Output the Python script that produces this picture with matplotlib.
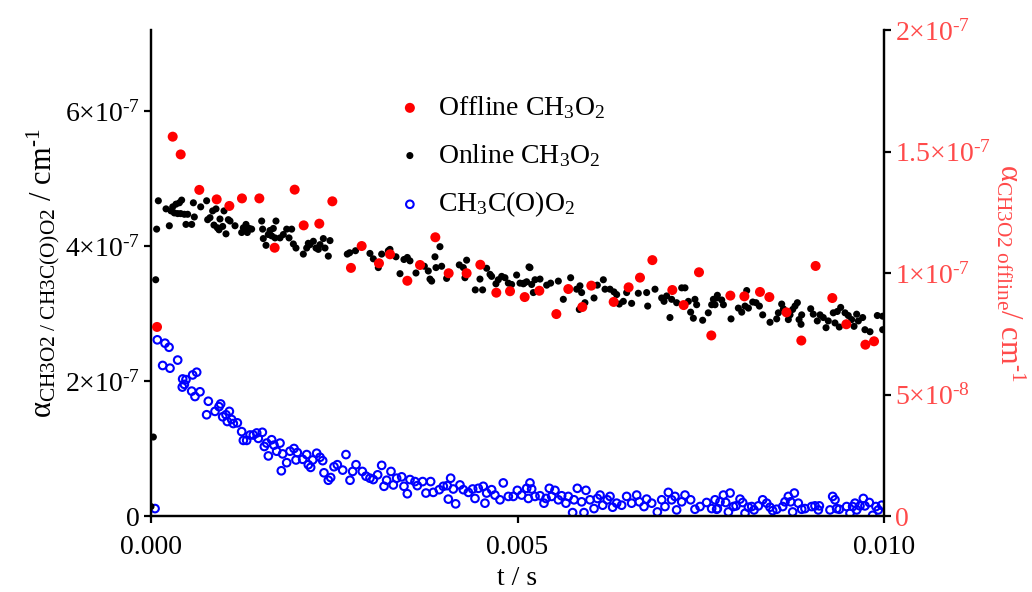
import matplotlib
matplotlib.use("Agg")
import matplotlib.pyplot as plt
import numpy as np

plt.rcParams["font.family"] = ["Liberation Serif", "DejaVu Serif"]
plt.rcParams["mathtext.fontset"] = "custom"
plt.rcParams["mathtext.rm"] = "Liberation Serif"
plt.rcParams["mathtext.it"] = "Liberation Serif:italic"
plt.rcParams["mathtext.bf"] = "Liberation Serif:bold"

# ----------------------------------------------------------------------
# data (time in ms, alpha in units of 1e-7 / 1e-8)
# ----------------------------------------------------------------------
t_online_ms = [
    0.0, 0.032, 0.064, 0.077, 0.100, 0.205, 0.25, 0.273, 0.296, 0.318,
    0.341, 0.364, 0.387, 0.405, 0.418, 0.455, 0.477, 0.50, 0.555, 0.578,
    0.591, 0.678, 0.759, 0.773, 0.805, 0.841, 0.859, 0.887, 0.905, 0.928,
    0.941, 0.978, 0.996, 1.023, 1.055, 1.078, 1.146, 1.237, 1.26, 1.296,
    1.314, 1.341, 1.373, 1.51, 1.523, 1.532, 1.569, 1.60, 1.623, 1.646,
    1.669, 1.692, 1.705, 1.76, 1.805, 1.851, 1.883, 1.919, 1.942, 1.978,
    2.078, 2.124, 2.146, 2.169, 2.215, 2.251, 2.283, 2.306, 2.351, 2.374,
    2.419, 2.442,
    2.678, 2.71, 2.79, 2.987, 3.033, 3.101, 3.147, 3.238, 3.26, 3.342,
    3.397, 3.451, 3.497, 3.533, 3.615, 3.729, 3.783, 3.806, 3.829, 3.874,
    3.888, 3.942, 3.965, 4.033, 4.206, 4.261, 4.306, 4.283, 4.424, 4.488,
    4.524, 4.579, 4.625, 4.647, 4.706, 4.738, 4.784, 4.829, 4.875, 4.92,
    4.988, 5.034, 5.08, 5.157,
    5.089, 5.125, 5.17, 5.193, 5.216, 5.239, 5.307, 5.398, 5.452, 5.557,
    5.625, 5.725, 5.807, 5.843, 5.852, 5.875, 5.92, 6.044, 6.089, 6.171,
    6.194, 6.262, 6.316, 6.353, 6.389, 6.444, 6.489, 6.557, 6.648, 6.762,
    6.776, 6.876, 6.967, 6.999, 7.035, 7.08, 7.103, 7.171, 7.24, 7.285,
    7.331, 7.362, 7.399, 7.421, 7.444, 7.526, 7.603, 7.649, 7.717,
    7.672, 7.695, 7.727, 7.786, 7.809, 7.913, 8.013, 8.059, 8.104, 8.127,
    8.15, 8.209, 8.254, 8.3, 8.345, 8.445, 8.536, 8.559, 8.604, 8.627,
    8.695, 8.718, 8.754, 8.786, 8.818, 8.841, 8.868, 8.877, 9.0, 9.035,
    9.09, 9.127, 9.172, 9.209, 9.24, 9.308, 9.331, 9.363, 9.39, 9.409,
    9.468, 9.513, 9.559, 9.591, 9.627, 9.65, 9.709, 9.74, 9.809, 9.909,
    9.982, 9.982,
]
online_e7 = [
    0.14, 1.17, 3.50, 4.25, 4.67, 4.55, 4.30, 4.52, 4.58, 4.49,
    4.62, 4.48, 4.64, 4.48, 4.68, 4.47, 4.32, 4.47, 4.32, 4.64,
    4.43, 4.58, 4.67, 4.39, 4.42, 4.52, 4.31, 4.55, 4.27, 4.24,
    4.40, 4.29, 4.52, 4.18, 4.39, 4.37, 4.30, 4.20, 4.27, 4.32,
    4.20, 4.26, 4.25, 4.37, 4.25, 4.11, 4.01, 4.17, 4.23, 4.15,
    4.26, 4.12, 4.37, 4.12, 4.17, 4.25, 4.12, 4.25, 4.03, 3.97,
    3.88, 3.97, 4.04, 4.02, 4.07, 3.97, 3.95, 4.02, 4.11, 3.97,
    3.85, 4.08,
    3.88, 3.90, 3.93, 3.89, 3.81, 3.68, 3.88, 3.93, 3.95, 3.84,
    3.59, 3.80, 3.83, 3.78, 3.60, 3.70, 3.63, 3.51, 3.48, 3.84,
    3.68, 3.99, 3.70, 3.52, 3.72, 3.68, 3.79, 3.53, 3.35, 3.51,
    3.35, 3.67, 3.58, 3.55, 3.44, 3.50, 3.55, 3.53, 3.45, 3.43,
    3.57, 3.45, 3.44, 3.69,
    3.45, 3.47, 3.68, 3.43, 3.31, 3.50, 3.51, 3.42, 3.45, 3.48,
    3.21, 3.53, 3.36, 3.06, 3.41, 3.31, 3.16, 3.23, 3.42, 3.50,
    3.36, 3.36, 3.32, 3.28, 3.14, 3.18, 3.31, 3.15, 3.30, 3.31,
    3.11, 3.36, 3.23, 3.18, 3.26, 2.94, 3.21, 3.16, 3.38, 3.38,
    3.18, 3.02, 2.93, 3.21, 3.13, 2.90, 3.01, 3.13, 3.23,
    3.21, 3.13, 3.27, 3.20, 3.13, 2.92, 3.08, 3.02, 3.11, 3.34,
    3.08, 3.17, 3.16, 3.11, 2.98, 2.87, 2.92, 3.01, 3.14, 3.07,
    2.91, 2.98, 3.06, 3.11, 3.16, 2.91, 2.84, 2.98, 3.07, 2.99,
    2.89, 2.98, 2.94, 2.79, 2.89, 3.01, 2.86, 3.03, 2.80, 3.09,
    3.01, 2.97, 2.91, 2.81, 2.99, 2.89, 2.94, 2.76, 2.73, 2.97,
    2.96, 2.76,
]

t_acyl_ms = [
    0.055, 0.086, 0.191, 0.246, 0.159, 0.259, 0.364, 0.432, 0.477, 0.427,
    0.455, 0.568, 0.623, 0.555, 0.60, 0.668, 0.782, 0.759, 0.873, 0.928,
    0.95, 0.978, 1.023, 1.069, 1.041, 1.10, 1.123, 1.178, 1.237, 1.26,
    1.305, 1.351, 1.396, 1.442, 1.464, 1.519, 1.546, 1.578, 1.601, 1.646,
    1.678, 1.714, 1.76, 1.778, 1.796, 1.851, 1.896, 1.951, 1.978, 1.996,
    2.069, 2.124, 2.146, 2.178, 2.206, 2.26, 2.306, 2.342, 2.36, 2.419,
    2.451, 2.497, 2.542,
    2.615, 2.66, 2.715, 2.751, 2.797, 2.883, 2.933, 2.987, 3.033, 3.092,
    3.147, 3.179, 3.215, 3.274, 3.306, 3.351, 3.42, 3.451, 3.497, 3.533,
    3.601, 3.633, 3.706, 3.751, 3.815, 3.851, 3.933, 3.988, 4.042, 4.056,
    4.088, 4.124, 4.156, 4.215, 4.261, 4.33, 4.388, 4.42, 4.465, 4.533,
    4.556, 4.579, 4.647, 4.692, 4.761, 4.806, 4.875, 4.943, 4.998, 5.057,
    5.125, 5.148,
    5.17, 5.193, 5.239, 5.307, 5.361, 5.389, 5.434, 5.466, 5.511, 5.557,
    5.602, 5.661, 5.693, 5.752, 5.771, 5.816, 5.875, 5.907, 5.934, 5.989,
    6.044, 6.089, 6.126, 6.162, 6.225, 6.262, 6.298, 6.353, 6.421, 6.489,
    6.557, 6.626, 6.662, 6.726, 6.762, 6.831, 6.908, 6.967, 7.012, 7.058,
    7.103, 7.149, 7.171, 7.24, 7.285, 7.362, 7.421, 7.49, 7.58, 7.649,
    7.717,
    7.695, 7.727, 7.763, 7.809, 7.84, 7.877, 7.90, 7.945, 7.981, 8.036,
    8.072, 8.104, 8.15, 8.195, 8.227, 8.286, 8.345, 8.40, 8.445, 8.481,
    8.536, 8.618, 8.649, 8.695, 8.727, 8.754, 8.777, 8.831, 8.877, 8.922,
    9.013, 9.058, 9.104, 9.118, 9.263, 9.30, 9.331, 9.354, 9.39, 9.49,
    9.536, 9.572, 9.604, 9.627, 9.672, 9.718, 9.74, 9.80, 9.845, 9.89,
    9.922, 9.968,
]
acyl_e7 = [
    0.11, 2.61, 2.56, 2.50, 2.23, 2.19, 2.31, 2.03, 2.02, 1.91,
    1.95, 2.09, 2.13, 1.85, 1.77, 1.84, 1.70, 1.50, 1.55, 1.62,
    1.66, 1.47, 1.50, 1.55, 1.40, 1.43, 1.37, 1.38, 1.25, 1.12,
    1.12, 1.20, 1.20, 1.23, 1.15, 1.24, 1.03, 1.08, 0.89, 1.13,
    1.05, 0.96, 1.08, 0.67, 0.92, 0.79, 0.96, 1.00, 0.83, 0.94,
    0.84, 0.91, 0.76, 0.72, 0.83, 0.93, 0.87, 0.82, 0.64, 0.53,
    0.57, 0.73, 0.76,
    0.68, 0.91, 0.53, 0.66, 0.76, 0.66, 0.59, 0.56, 0.54, 0.61,
    0.75, 0.44, 0.53, 0.66, 0.46, 0.56, 0.58, 0.44, 0.33, 0.54,
    0.51, 0.45, 0.51, 0.34, 0.51, 0.35, 0.39, 0.44, 0.45, 0.25,
    0.56, 0.40, 0.18, 0.46, 0.39, 0.35, 0.40, 0.26, 0.41, 0.44,
    0.19, 0.34, 0.39, 0.31, 0.24, 0.49, 0.29, 0.29, 0.38, 0.31,
    0.41, 0.26,
    0.49, 0.40, 0.29, 0.30, 0.19, 0.26, 0.41, 0.29, 0.38, 0.24,
    0.30, 0.19, 0.29, 0.05, 0.24, 0.41, 0.21, 0.05, 0.38, 0.24,
    0.11, 0.26, 0.31, 0.16, 0.24, 0.29, 0.13, 0.19, 0.16, 0.29,
    0.19, 0.31, 0.21, 0.14, 0.25, 0.19, 0.06, 0.24, 0.14, 0.35,
    0.24, 0.29, 0.09, 0.21, 0.31, 0.24, 0.10, 0.14, 0.20, 0.11,
    0.10,
    0.24, 0.11, 0.21, 0.31, 0.20, 0.06, 0.34, 0.14, 0.15, 0.25,
    0.20, 0.04, 0.13, 0.14, 0.09, 0.15, 0.24, 0.19, 0.13, 0.08,
    0.10, 0.14, 0.21, 0.29, 0.21, 0.06, 0.34, 0.19, 0.10, 0.11,
    0.14, 0.15, 0.09, 0.15, 0.09, 0.29, 0.24, 0.11, 0.10, 0.14,
    0.04, 0.14, 0.19, 0.09, 0.15, 0.26, 0.15, 0.20, 0.01, 0.14,
    0.09, 0.16,
]

t_offline_ms = [
    0.082, 0.296, 0.405, 0.659, 0.896, 1.069, 1.241, 1.478, 1.687, 1.96,
    2.083, 2.296, 2.474, 2.728, 2.874, 3.11, 3.261, 3.497, 3.67, 3.879,
    4.061, 4.306, 4.493, 4.711, 4.898, 5.098, 5.298, 5.53, 5.693, 5.884,
    6.007, 6.312, 6.516, 6.671, 6.84, 7.112, 7.267, 7.476, 7.644, 7.904,
    8.095, 8.308, 8.436, 8.67, 8.872, 9.067, 9.295, 9.486, 9.746, 9.864,
]
offline_e8 = [
    7.78, 15.61, 14.88, 13.42, 13.03, 12.76, 13.07, 13.07, 11.04, 13.43,
    11.96, 12.03, 12.95, 10.21, 11.11, 10.40, 10.77, 9.68, 10.33, 11.47,
    9.99, 9.99, 10.34, 9.19, 9.25, 9.01, 9.27, 8.31, 9.34, 8.60,
    9.48, 8.81, 9.41, 9.81, 10.53, 9.30, 8.68, 10.03, 7.43, 9.07,
    9.04, 9.22, 9.01, 8.38, 7.22, 10.29, 8.97, 7.89, 7.05, 7.19,
]

x_ticks = [0.0, 0.005, 0.010]
x_labels = ["0.000", "0.005", "0.010"]
left_ticks = [0.0, 2e-7, 4e-7, 6e-7]
left_labels = ["0", r"2×10$^{\text{-7}}$", r"4×10$^{\text{-7}}$",
               r"6×10$^{\text{-7}}$"]
right_ticks = [0.0, 5e-8, 1e-7, 1.5e-7, 2e-7]
right_labels = ["0", r"5×10$^{\text{-8}}$", r"1×10$^{\text{-7}}$",
                r"1.5×10$^{\text{-7}}$", r"2×10$^{\text{-7}}$"]

RIGHT_COLOR = "#ff4a4a"
FS = 20


def main():
    t_on = np.array(t_online_ms) * 1e-3
    y_on = np.array(online_e7) * 1e-7
    t_ac = np.array(t_acyl_ms) * 1e-3
    y_ac = np.array(acyl_e7) * 1e-7
    t_off = np.array(t_offline_ms) * 1e-3
    y_off = np.array(offline_e8) * 1e-8

    fig = plt.figure(figsize=(10.32, 5.92), dpi=100)
    ax = fig.add_axes([151 / 1032, 76 / 592, 733 / 1032, 486 / 592])
    ax2 = ax.twinx()

    h_on = ax.scatter(t_on, y_on, s=26, color="black", edgecolors="none",
                      label=r"Online CH$_3$O$_2$", zorder=3)
    h_ac = ax.scatter(t_ac, y_ac, s=30, facecolors="none", edgecolors="#0000ff",
                      linewidths=1.5, label=r"CH$_3$C(O)O$_2$", zorder=2)
    h_off = ax2.scatter(t_off, y_off, s=52, color="#ff0000", edgecolors="none",
                        label=r"Offline CH$_3$O$_2$", zorder=4)

    ax.set_xlim(0, 0.010)
    ax.set_ylim(0, 7.2e-7)
    ax2.set_ylim(0, 2e-7)

    ax.set_xticks(x_ticks)
    ax.set_xticklabels(x_labels)
    ax.set_yticks(left_ticks)
    ax.set_yticklabels(left_labels)
    ax2.set_yticks(right_ticks)
    ax2.set_yticklabels(right_labels)

    for a in (ax, ax2):
        a.spines["top"].set_visible(False)
        for s in a.spines.values():
            s.set_linewidth(1.6)
        a.tick_params(direction="out", length=5, width=1.6, labelsize=FS,
                      pad=3)
    ax.tick_params(axis="x", pad=9)
    ax2.tick_params(axis="y", labelcolor=RIGHT_COLOR)

    ax.set_xlabel("t / s", fontsize=FS, labelpad=4)
    ax.set_ylabel(r"α$_{\rm CH3O2\ /\ CH3C(O)O2}$ / cm$^{\text{-1}}$",
                  fontsize=22, labelpad=2)
    ax2.set_ylabel(r"α$_{\rm CH3O2\ offline}$/ cm$^{\text{-1}}$", fontsize=22,
                   color=RIGHT_COLOR, rotation=270, labelpad=26)

    ax.legend(handles=[h_off, h_on, h_ac], loc="center left",
              bbox_to_anchor=(0.338, 0.739), frameon=False, fontsize=FS,
              handlelength=0.8, handletextpad=0.6, labelspacing=0.75,
              borderpad=0, borderaxespad=0)

    fig.savefig("out.png", dpi=100)
    plt.close(fig)


if __name__ == "__main__":
    main()
